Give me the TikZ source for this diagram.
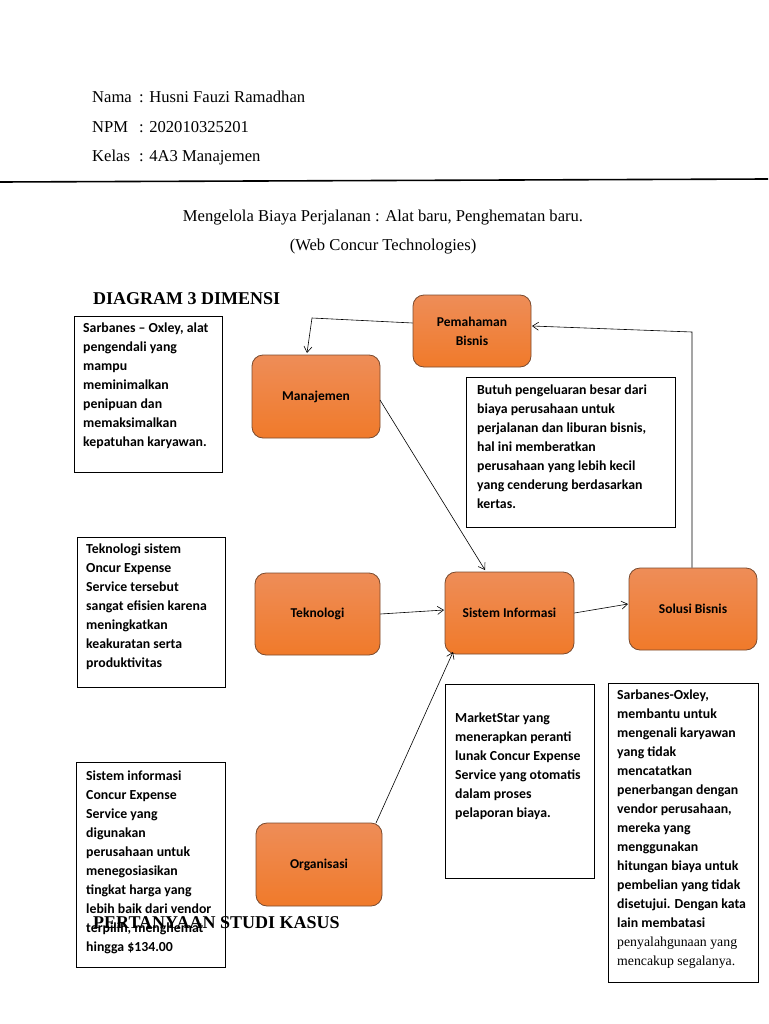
\documentclass[tikz,border=0pt]{standalone}
\usepackage{fontspec}
\setmainfont{Liberation Serif}
\newfontfamily\boxfont{Carlito}
\usetikzlibrary{arrows.meta}
\definecolor{orTop}{HTML}{EE8D58}
\definecolor{orBot}{HTML}{F07A2A}
\definecolor{orEdge}{HTML}{7A4A2E}
\tikzset{
  proc/.style={rectangle, rounded corners=11pt, draw=orEdge, line width=0.8pt,
    top color=orTop, bottom color=orBot, align=center,
    font=\boxfont\bfseries\fontsize{13.5}{19}\selectfont},
  notebox/.style={rectangle, draw=black, line width=0.9pt, inner sep=0pt},
  notetext/.style={anchor=north west, align=left, inner sep=0pt,
    font=\boxfont\bfseries\fontsize{13.8}{19}\selectfont},
  conn/.style={draw=black, line width=0.6pt},
  arr/.style={conn, -{Straight Barb[length=6pt,width=8pt]}},
  head/.style={anchor=base west, inner sep=0pt, font=\fontsize{16.6}{19}\selectfont},
  bighead/.style={anchor=base west, inner sep=0pt, font=\bfseries\fontsize{18}{20}\selectfont},
}
\begin{document}
\begin{tikzpicture}[x=1pt,y=-1pt]
\useasboundingbox (0,0) rectangle (768,1024);
\fill[white] (0,0) rectangle (768,1024);

% header
\node[head] (l1) at (92,103) {Nama};
\node[head] (v1) at (139,103) {: Husni Fauzi Ramadhan};
\node[head] (l2) at (92,133) {NPM};
\node[head] (v2) at (139,133) {: 202010325201};
\node[head] (l3) at (92,162) {Kelas};
\node[head] (v3) at (139,162) {: 4A3 Manajemen};
\coordinate (hl1) at (0,182);
\coordinate (hl2) at (768,179);
\draw[line width=1.6pt] (hl1) -- (hl2);

\node[anchor=base, inner sep=0pt, font=\fontsize{16.6}{19}\selectfont] (t1) at (383,222) {Mengelola Biaya Perjalanan : Alat baru, Penghematan baru.};
\node[anchor=base, inner sep=0pt, font=\fontsize{16.6}{19}\selectfont] (t2) at (383,250) {(Web Concur Technologies)};

\node[bighead] (dh) at (93,304) {DIAGRAM 3 DIMENSI};

% process nodes
\node[proc, minimum width=128pt, minimum height=83pt] (man) at (316,396.5) {Manajemen};
\node[proc, minimum width=118pt, minimum height=72pt] (pem) at (472,331) {Pemahaman\\Bisnis};
\node[proc, minimum width=125pt, minimum height=82pt] (tek) at (317.5,614) {Teknologi};
\node[proc, minimum width=129pt, minimum height=82pt] (si) at (509.5,613) {Sistem Informasi};
\node[proc, minimum width=128pt, minimum height=82pt] (sol) at (693,609) {Solusi Bisnis};
\node[proc, minimum width=126pt, minimum height=83pt] (org) at (319,864.5) {Organisasi};

% note boxes
\node[notebox, minimum width=148pt, minimum height=156pt] (b1) at (148,394) {};
\node[notetext] (b1t) at (83,323) {Sarbanes – Oxley, alat\\pengendali yang\\mampu\\meminimalkan\\penipuan dan\\memaksimalkan\\kepatuhan karyawan.};

\node[notebox, minimum width=209pt, minimum height=150pt] (b2) at (570.5,452) {};
\node[notetext] (b2t) at (477,385) {Butuh pengeluaran besar dari\\biaya perusahaan untuk\\perjalanan dan liburan bisnis,\\hal ini memberatkan\\perusahaan yang lebih kecil\\yang cenderung berdasarkan\\kertas.};

\node[notebox, minimum width=148pt, minimum height=150pt] (b3) at (151,612) {};
\node[notetext] (b3t) at (86,544) {Teknologi sistem\\Oncur Expense\\Service tersebut\\sangat efisien karena\\meningkatkan\\keakuratan serta\\produktivitas};

\node[notebox, minimum width=149pt, minimum height=194pt] (b4) at (519.5,781) {};
\node[notetext] (b4t) at (455,713) {MarketStar yang\\menerapkan peranti\\lunak Concur Expense\\Service yang otomatis\\dalam proses\\pelaporan biaya.};

\node[notebox, minimum width=150pt, minimum height=299pt] (b5) at (683,832.5) {};
\node[notetext] (b5t) at (617,690) {Sarbanes-Oxley,\\membantu untuk\\mengenali karyawan\\yang tidak\\mencatatkan\\penerbangan dengan\\vendor perusahaan,\\mereka yang\\menggunakan\\hitungan biaya untuk\\pembelian yang tidak\\disetujui. Dengan kata\\lain membatasi\\{\mdseries\rmfamily penyalahgunaan yang}\\{\mdseries\rmfamily mencakup segalanya.}};

\node[notebox, minimum width=149pt, minimum height=205pt] (b6) at (150.5,864.5) {};
\node[notetext] (b6t) at (86,771) {Sistem informasi\\Concur Expense\\Service yang\\digunakan\\perusahaan untuk\\menegosiasikan\\tingkat harga yang\\lebih baik dari vendor\\terpilih, menghemat\\hingga \$134.00};

\node[bighead] (ph) at (93,928) {PERTANYAAN STUDI KASUS};

% connectors
\coordinate (c1) at (312,318);
\draw[arr] (pem.west |- 0,323) -- (c1) -- (307,353);
\draw[arr] (380,400) -- (485,570);
\draw[arr] (tek.east) -- (444,610);
\draw[arr] (si.east) -- (628,604);
\coordinate (c2) at (692,332);
\draw[arr] (sol.north -| 692,0) -- (c2) -- (532,326);
\draw[arr] (376,823) -- (453,652);
\end{tikzpicture}
\end{document}
